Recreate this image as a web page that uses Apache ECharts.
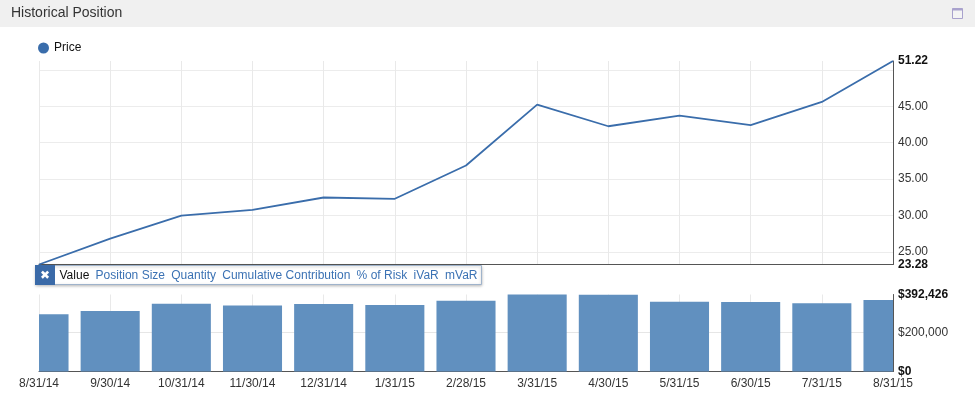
<!DOCTYPE html>
<html lang="en">
<head>
  <meta charset="UTF-8">
  <title>Historical Position</title>
  <style>
    html, body { margin: 0; padding: 0; background: #fff; }
    #chart { width: 975px; height: 399px; }
  </style>
</head>
<body>
  <script src="https://cdn.jsdelivr.net/npm/echarts@6/dist/echarts.min.js"></script>
  <div id="chart"></div>
  <script>
    // data
    var dates = ['8/31/14', '9/30/14', '10/31/14', '11/30/14', '12/31/14', '1/31/15', '2/28/15',
                 '3/31/15', '4/30/15', '5/31/15', '6/30/15', '7/31/15', '8/31/15']
    var price = [23.28, 26.84, 30.00, 30.78, 32.48, 32.30, 36.88, 45.23, 42.26, 43.71, 42.43, 45.60, 51.22]
    var positionValue = [292300, 307700, 345600, 336900, 344600, 338500, 361000,
                         392426, 391000, 355900, 353800, 347200, 364100]
    var tabs = ['Value', 'Position Size', 'Quantity', 'Cumulative Contribution', '% of Risk', 'iVaR', 'mVaR']

    var priceMin = Math.min.apply(null, price)
    var priceMax = Math.max.apply(null, price)
    var valueMax = Math.max.apply(null, positionValue)

    var font = 'Liberation Sans'
    let chart = echarts.init(document.getElementById('chart'))

    function money(v) {
      return '$' + Math.round(v).toString().replace(/\B(?=(\d{3})+(?!\d))/g, ',')
    }

    // tab bar (the little metric switcher over the bars)
    var ctx = document.createElement('canvas').getContext('2d')
    ctx.font = '12px "' + font + '"'
    var tabEls = []
    var tx = 59.5
    tabs.forEach(function (t, i) {
      tabEls.push({
        type: 'text', x: tx, y: 275.5, z: 102,
        style: {
          text: t, fontFamily: font, fontSize: 12,
          fill: i === 0 ? '#111' : '#3b72b4',
          verticalAlign: 'middle'
        }
      })
      tx += ctx.measureText(t).width + 6.3
    })

    // bars centred on the date ticks, cut off at the plot edges (first / last are half bars)
    function renderBar(params, api) {
      var top = api.coord([api.value(0), api.value(1)])
      var base = api.coord([api.value(0), 0])
      var w = api.size([1, 0])[0] * 0.83
      var cs = params.coordSys
      var shape = echarts.graphic.clipRectByRect(
        { x: top[0] - w / 2, y: top[1], width: w, height: base[1] - top[1] },
        { x: cs.x, y: cs.y, width: cs.width, height: cs.height }
      )
      return shape && { type: 'rect', shape: shape, style: api.style() }
    }

    option = {
      backgroundColor: '#fff',
      animation: false,
      textStyle: { fontFamily: font },
      legend: {
        data: ['Price'],
        left: 33, top: 37,
        icon: 'circle',
        itemWidth: 11, itemHeight: 11,
        textStyle: { fontSize: 12, color: '#111', fontFamily: font }
      },
      graphic: [
        { type: 'rect', shape: { x: 0, y: 0, width: 975, height: 27 }, style: { fill: '#f0f0f0' }, z: 100 },
        { type: 'text', x: 11, y: 13.5, z: 101,
          style: { text: 'Historical Position', fontFamily: font, fontSize: 14, fill: '#333', verticalAlign: 'middle' } },
        { type: 'rect', shape: { x: 952.5, y: 8.5, width: 10, height: 10 }, z: 101,
          style: { fill: '#f4f4f4', stroke: '#a9a2cd', lineWidth: 1 } },
        { type: 'rect', shape: { x: 952.5, y: 8.5, width: 10, height: 2 }, z: 101,
          style: { fill: '#a9a2cd' } },
        { type: 'rect', shape: { x: 35.5, y: 265.5, width: 446, height: 19 }, z: 101,
          style: { fill: '#fff', stroke: '#9fb3cb', lineWidth: 1, shadowBlur: 3, shadowColor: 'rgba(0,0,0,0.25)', shadowOffsetY: 1 } },
        { type: 'rect', shape: { x: 35, y: 265, width: 20, height: 20 }, z: 102,
          style: { fill: '#3a6aa8' } },
        { type: 'text', x: 45, y: 275.5, z: 103,
          style: { text: '✖', fontFamily: 'DejaVu Sans', fontSize: 12, fontWeight: 'bold', fill: '#fff', align: 'center', verticalAlign: 'middle' } }
      ].concat(tabEls),
      grid: [
        { left: 39, right: 82, top: 61, height: 203.5 },
        { left: 39, right: 82, top: 294.5, height: 77 }
      ],
      xAxis: [
        {
          type: 'category', gridIndex: 0, data: dates, boundaryGap: false,
          axisLine: { lineStyle: { color: '#555', width: 1 } },
          axisTick: { show: false }, axisLabel: { show: false },
          splitLine: { show: true, lineStyle: { color: '#e9e9e9' } }
        },
        {
          type: 'category', gridIndex: 1, data: dates, boundaryGap: false,
          axisLine: { lineStyle: { color: '#555', width: 1 } },
          axisTick: { show: false },
          axisLabel: { fontSize: 12, color: '#333', margin: 6, interval: 0, fontFamily: font },
          splitLine: { show: true, lineStyle: { color: '#e9e9e9' } }
        }
      ],
      yAxis: [
        {
          type: 'value', gridIndex: 0, position: 'right',
          min: priceMin, max: priceMax,
          axisLine: { show: true, lineStyle: { color: '#555', width: 1 } },
          axisTick: { show: false },
          splitLine: { show: true, showMinLine: false, showMaxLine: false, lineStyle: { color: '#ececec' } },
          axisLabel: {
            margin: 5, fontSize: 12, color: '#333', fontFamily: font,
            formatter: function (v) {
              if (Math.abs(v - priceMin) < 1e-6 || Math.abs(v - priceMax) < 1e-6) return '{b|' + v.toFixed(2) + '}'
              if (v === 50) return ''
              return v.toFixed(2)
            },
            rich: { b: { fontWeight: 'bold', color: '#111', fontSize: 12, fontFamily: font } }
          }
        },
        {
          type: 'value', gridIndex: 1, position: 'right',
          min: 0, max: valueMax, interval: 200000,
          axisLine: { show: true, lineStyle: { color: '#555', width: 1 } },
          axisTick: { show: false },
          splitLine: { show: true, showMinLine: false, showMaxLine: false, lineStyle: { color: '#e6e6e6' } },
          axisLabel: {
            margin: 5, fontSize: 12, color: '#333', fontFamily: font,
            formatter: function (v) {
              if (v === 0 || Math.abs(v - valueMax) < 1e-6) return '{b|' + money(v) + '}'
              return money(v)
            },
            rich: { b: { fontWeight: 'bold', color: '#111', fontSize: 12, fontFamily: font } }
          }
        }
      ],
      series: [
        {
          name: 'Price', type: 'line', xAxisIndex: 0, yAxisIndex: 0,
          data: price, showSymbol: false, symbol: 'none',
          color: '#3a6dab',
          lineStyle: { color: '#3a6dab', width: 1.8 }
        },
        {
          name: 'Value', type: 'custom', xAxisIndex: 1, yAxisIndex: 1,
          renderItem: renderBar,
          data: positionValue.map(function (v, i) { return [i, v] }),
          encode: { x: 0, y: 1 },
          itemStyle: { color: '#6190bf' }
        }
      ]
    }
    chart.setOption(option)
  </script>
</body>
</html>
